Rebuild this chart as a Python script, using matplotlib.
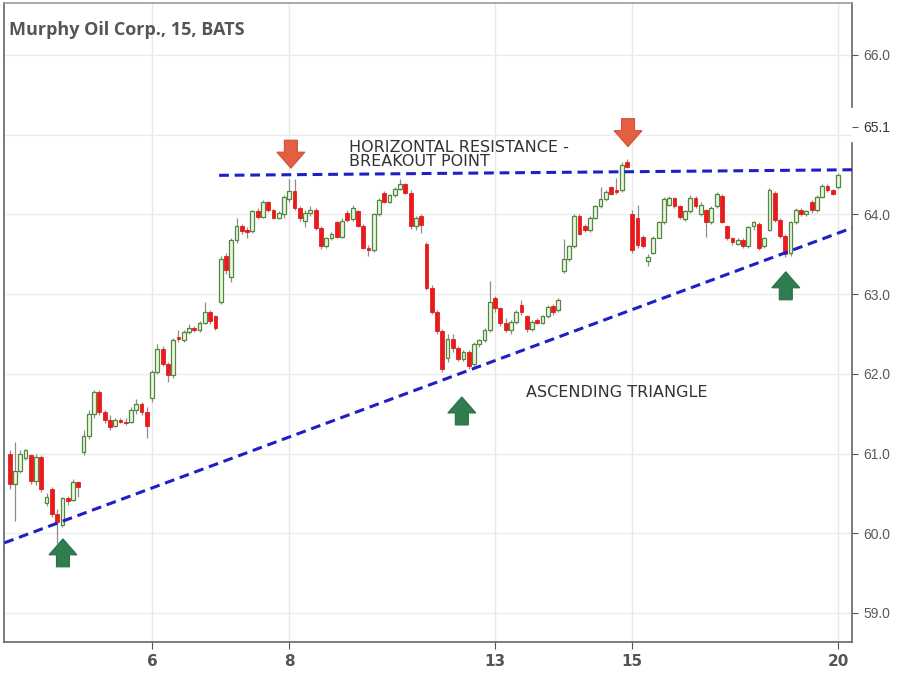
import numpy as np
import matplotlib.pyplot as plt
from matplotlib.patches import Polygon

# sessions on the x axis (15-minute bars, compressed)
session_days = ['2', '5', '6', '7', '8', '9', '10', '13', '14', '15', '16', '19', '20']
bars_per_session = [14, 13, 13, 13, 13, 13, 13, 13, 13, 13, 13, 13, 1]
tick_days = ['6', '8', '13', '15', '20']

opens = [
    61.00, 60.62, 60.78, 60.94, 60.98, 60.66, 60.96, 60.38, 60.55, 60.24, 60.10, 60.44, 60.42, 60.64,
    61.02, 61.22, 61.50, 61.77, 61.52, 61.42, 61.35, 61.42, 61.40, 61.40, 61.55, 61.62, 61.52,
    61.70, 62.02, 62.31, 62.12, 61.98, 62.45, 62.42, 62.52, 62.58, 62.55, 62.64, 62.78, 62.72,
    62.90, 63.48, 63.22, 63.68, 63.85, 63.80, 63.79, 64.04, 63.97, 64.15, 64.05, 63.96, 64.00,
    64.19, 64.29, 64.08, 63.92, 64.02, 64.06, 63.83, 63.60, 63.70, 63.90, 63.72, 64.02, 63.94,
    64.04, 63.86, 63.58, 63.55, 64.00, 64.27, 64.16, 64.24, 64.32, 64.38, 64.27, 63.85, 63.98,
    63.63, 63.08, 62.78, 62.54, 62.20, 62.44, 62.32, 62.18, 62.28, 62.12, 62.38, 62.42, 62.55,
    62.95, 62.82, 62.64, 62.55, 62.65, 62.86, 62.72, 62.56, 62.68, 62.64, 62.72, 62.85, 62.80,
    63.29, 63.44, 63.60, 63.98, 63.86, 63.80, 63.96, 64.10, 64.19, 64.34, 64.30, 64.30, 64.66,
    64.00, 63.95, 63.72, 63.42, 63.52, 63.71, 63.90, 64.12, 64.20, 64.10, 63.94, 64.04, 64.21,
    64.00, 64.05, 63.90, 64.10, 64.23, 63.85, 63.70, 63.63, 63.68, 63.60, 63.85, 63.88, 63.60,
    63.81, 64.27, 63.93, 63.73, 63.52, 63.90, 64.05, 64.00, 64.16, 64.05, 64.22, 64.36, 64.30,
    64.34,
]
highs = [
    61.05, 61.15, 61.05, 61.06, 61.00, 61.00, 60.98, 60.50, 60.58, 60.30, 60.46, 60.47, 60.68, 60.66,
    61.30, 61.55, 61.80, 61.80, 61.55, 61.48, 61.45, 61.45, 61.44, 61.58, 61.68, 61.65, 61.58,
    62.05, 62.37, 62.35, 62.15, 62.45, 62.55, 62.55, 62.62, 62.60, 62.66, 62.90, 62.80, 62.74,
    63.48, 63.52, 63.70, 63.95, 63.88, 63.84, 64.06, 64.08, 64.18, 64.17, 64.07, 64.04, 64.24,
    64.44, 64.44, 64.10, 64.06, 64.10, 64.08, 63.86, 63.72, 63.78, 63.92, 63.95, 64.05, 64.12,
    64.06, 63.88, 63.62, 64.02, 64.20, 64.29, 64.26, 64.34, 64.44, 64.40, 64.30, 63.98, 64.00,
    63.65, 63.12, 62.80, 62.56, 62.50, 62.50, 62.35, 62.30, 62.30, 62.40, 62.44, 62.58, 63.16,
    62.98, 62.84, 62.70, 62.68, 62.80, 62.92, 62.74, 62.68, 62.70, 62.74, 62.86, 62.87, 62.95,
    63.69, 63.62, 64.00, 64.00, 63.88, 63.98, 64.12, 64.35, 64.30, 64.36, 64.46, 64.66, 64.69,
    64.05, 64.12, 63.74, 63.50, 63.73, 63.92, 64.22, 64.23, 64.22, 64.12, 64.05, 64.24, 64.23,
    64.15, 64.07, 64.10, 64.28, 64.25, 63.87, 63.72, 63.70, 63.70, 63.86, 63.92, 63.90, 63.72,
    64.33, 64.29, 63.95, 63.75, 63.92, 64.08, 64.08, 64.06, 64.18, 64.24, 64.38, 64.38, 64.32,
    64.52,
]
lows = [
    60.55, 60.15, 60.75, 60.92, 60.62, 60.60, 60.52, 60.34, 60.20, 59.88, 60.08, 60.36, 60.40, 60.45,
    60.98, 61.18, 61.45, 61.48, 61.38, 61.30, 61.33, 61.38, 61.36, 61.38, 61.50, 61.48, 61.19,
    61.65, 62.00, 62.10, 61.90, 61.95, 62.40, 62.40, 62.50, 62.52, 62.53, 62.62, 62.62, 62.55,
    62.88, 63.25, 63.15, 63.64, 63.76, 63.70, 63.77, 63.94, 63.95, 64.03, 63.94, 63.94, 63.95,
    64.15, 64.06, 63.92, 63.84, 63.98, 63.80, 63.56, 63.58, 63.68, 63.70, 63.70, 63.90, 63.92,
    63.84, 63.56, 63.48, 63.53, 63.98, 64.14, 64.14, 64.22, 64.30, 64.25, 63.82, 63.80, 63.77,
    63.05, 62.75, 62.50, 62.02, 62.15, 62.28, 62.16, 62.16, 62.06, 62.10, 62.34, 62.40, 62.52,
    62.78, 62.60, 62.52, 62.50, 62.62, 62.74, 62.52, 62.54, 62.62, 62.62, 62.70, 62.74, 62.78,
    63.26, 63.42, 63.58, 63.74, 63.78, 63.78, 63.94, 64.08, 64.17, 64.24, 64.26, 64.28, 64.58,
    63.52, 63.58, 63.58, 63.35, 63.50, 63.70, 63.88, 64.10, 64.08, 63.94, 63.92, 64.02, 64.08,
    63.98, 63.72, 63.88, 64.08, 63.89, 63.68, 63.62, 63.61, 63.58, 63.58, 63.80, 63.55, 63.58,
    63.79, 63.90, 63.70, 63.46, 63.48, 63.88, 63.98, 63.98, 64.02, 64.03, 64.20, 64.28, 64.24,
    64.32,
]
closes = [
    60.62, 60.78, 61.00, 61.04, 60.65, 60.96, 60.55, 60.46, 60.24, 60.14, 60.44, 60.40, 60.64, 60.58,
    61.22, 61.50, 61.77, 61.52, 61.42, 61.33, 61.42, 61.40, 61.38, 61.55, 61.62, 61.52, 61.35,
    62.02, 62.31, 62.12, 61.98, 62.42, 62.44, 62.52, 62.58, 62.55, 62.64, 62.78, 62.66, 62.58,
    63.44, 63.30, 63.68, 63.85, 63.79, 63.78, 64.04, 63.97, 64.15, 64.05, 63.96, 64.02, 64.22,
    64.29, 64.08, 63.95, 64.02, 64.06, 63.83, 63.60, 63.70, 63.75, 63.72, 63.92, 63.93, 64.08,
    63.86, 63.58, 63.55, 64.00, 64.18, 64.16, 64.24, 64.32, 64.38, 64.27, 63.85, 63.95, 63.87,
    63.08, 62.78, 62.54, 62.06, 62.44, 62.32, 62.18, 62.28, 62.10, 62.38, 62.42, 62.55, 62.90,
    62.82, 62.64, 62.55, 62.65, 62.77, 62.77, 62.56, 62.65, 62.64, 62.72, 62.84, 62.77, 62.93,
    63.44, 63.60, 63.98, 63.76, 63.80, 63.96, 64.10, 64.19, 64.28, 64.26, 64.28, 64.62, 64.60,
    63.55, 63.62, 63.60, 63.46, 63.71, 63.90, 64.19, 64.21, 64.10, 63.97, 64.04, 64.21, 64.11,
    64.12, 63.90, 64.08, 64.25, 63.91, 63.70, 63.65, 63.68, 63.60, 63.84, 63.90, 63.58, 63.70,
    64.31, 63.93, 63.73, 63.50, 63.90, 64.05, 64.00, 64.04, 64.05, 64.22, 64.36, 64.30, 64.26,
    64.50,
]

price_ticks = [59.0, 60.0, 61.0, 62.0, 63.0, 64.0, 66.0]
grid_prices = [59.0, 60.0, 61.0, 62.0, 63.0, 64.0, 65.0, 66.0]
scale_tag = 65.1

# drawn trend lines (bar index, price)
resistance_x = [39.7, 159.65]
resistance_y = [64.49, 64.56]
support_x = [-1.0, 159.65]
support_y = [59.88, 63.83]

# annotation arrows: tip position (bar index, price)
sell_x = [53.3, 117.2]
sell_y = [64.58, 64.85]
buy_x = [10.1, 85.7, 147.1]
buy_y = [59.93, 61.71, 63.28]

W, H = 898, 677
AX_L, AX_R, AX_T, AX_B = 4, 852, 3, 642
XMIN, XMAX = -1.07, 159.65
YMIN, YMAX = 58.636, 66.652

fig = plt.figure(figsize=(W / 100, H / 100), dpi=100)
ax = fig.add_axes([AX_L / W, 1 - AX_B / H, (AX_R - AX_L) / W, (AX_B - AX_T) / H])
ax.set_xlim(XMIN, XMAX)
ax.set_ylim(YMIN, YMAX)

px_x = (AX_R - AX_L) / (XMAX - XMIN)   # pixels per bar
px_y = (AX_B - AX_T) / (YMAX - YMIN)   # pixels per dollar

idx = np.arange(len(closes))
o = np.array(opens)
c = np.array(closes)
up = c >= o

# wicks
ax.vlines(idx, lows, highs, color='#8c8c8c', linewidth=0.9, zorder=2)

# bodies
body_w = 0.72
bottom = np.minimum(o, c)
height = np.maximum(np.abs(c - o), 0.02)
ax.bar(idx[up], height[up], bottom=bottom[up], width=body_w,
       facecolor='#eef5e6', edgecolor='#4f8a3c', linewidth=0.9, zorder=3)
ax.bar(idx[~up], height[~up], bottom=bottom[~up], width=body_w,
       facecolor='#e81c1c', edgecolor='#e81c1c', linewidth=0.6, zorder=3)

# trend lines
ax.plot(resistance_x, resistance_y, color='#1f1fc6', linewidth=2.2,
        dashes=(3.2, 1.9), zorder=4, dash_capstyle='butt')
ax.plot(support_x, support_y, color='#1f1fc6', linewidth=2.2,
        dashes=(3.2, 1.9), zorder=4, dash_capstyle='butt')


def block_arrow(x_tip, y_tip, down, color, edge):
    # shape in pixels relative to the tip, y pointing away from tip
    shape = [(0, 0), (-14, 16), (-6.5, 16), (-6.5, 28), (6.5, 28), (6.5, 16), (14, 16)]
    sign = 1 if down else -1
    pts = [(x_tip + dx / px_x, y_tip + sign * dy / px_y) for dx, dy in shape]
    ax.add_patch(Polygon(pts, closed=True, facecolor=color, edgecolor=edge,
                         linewidth=0.8, zorder=5))


for x, y in zip(sell_x, sell_y):
    block_arrow(x, y, True, '#e2603f', '#d0513a')
for x, y in zip(buy_x, buy_y):
    block_arrow(x, y, False, '#2f7d4e', '#2a6e45')

# annotations
ax.text(64.3, 64.75, 'HORIZONTAL RESISTANCE -\nBREAKOUT POINT', fontsize=11.5,
        color='#333333', ha='left', va='center', linespacing=0.98, zorder=6)
ax.text(97.9, 61.77, 'ASCENDING TRIANGLE', fontsize=11.5, color='#333333',
        ha='left', va='center', zorder=6)

ax.text(5 / (AX_R - AX_L), 1 - (30 - AX_T) / (AX_B - AX_T), 'Murphy Oil Corp., 15, BATS',
        transform=ax.transAxes, fontsize=13, fontweight='bold', color='#555555',
        family='Open Sans', ha='left', va='center', zorder=6)

# x ticks at session starts
starts = np.concatenate([[0], np.cumsum(bars_per_session)[:-1]])
tick_pos = [starts[session_days.index(d)] for d in tick_days]
ax.set_xticks(tick_pos)
ax.set_xticklabels(tick_days, fontsize=11, fontweight='bold', color='#555555',
                   family=['Liberation Sans Narrow', 'DejaVu Sans'])
ax.tick_params(axis='x', length=5, color='#555555', pad=4)

# y ticks on the right
ax.yaxis.tick_right()
yt = price_ticks + [scale_tag]
ax.set_yticks(yt)
ax.set_yticklabels(['%.1f' % v for v in price_ticks] + ['%.1f' % scale_tag],
                   fontsize=10, color='#5a5a5a', family='Liberation Sans')
ax.get_yticklabels()[-1].set_color('#333333')
ax.tick_params(axis='y', length=4, color='#555555', pad=4)

# grid
for p in tick_pos:
    ax.axvline(p, color='#e8e8e8', linewidth=1, zorder=0)
for v in grid_prices:
    ax.axhline(v, color='#ececec', linewidth=1, zorder=0)

for s in ['top', 'left', 'bottom']:
    ax.spines[s].set_color('#666666')
    ax.spines[s].set_linewidth(1.2)
ax.spines['top'].set_color('#9a9a9a')
ax.spines['right'].set_visible(False)
# right scale line with a gap around the tag label
ax.plot([1, 1], [YMIN, scale_tag - 0.2], transform=ax.get_yaxis_transform(),
        color='#666666', linewidth=1.2, clip_on=False)
ax.plot([1, 1], [scale_tag + 0.25, YMAX], transform=ax.get_yaxis_transform(),
        color='#666666', linewidth=1.2, clip_on=False)

fig.savefig('out.png', dpi=100)
